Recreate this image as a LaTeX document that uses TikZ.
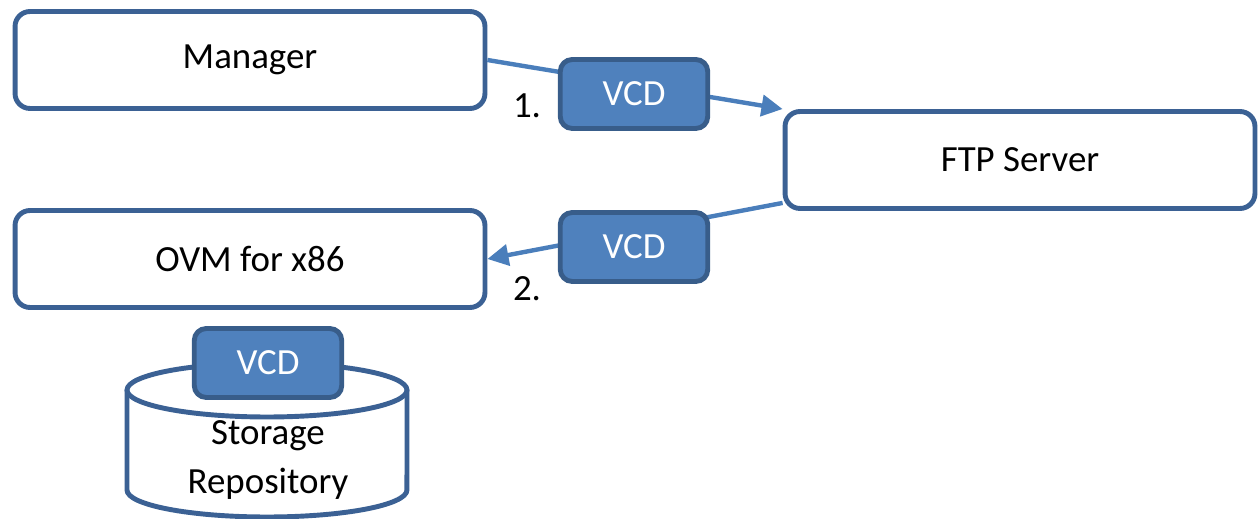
\documentclass[tikz,border=0pt]{standalone}
\usepackage{fontspec}
\setmainfont{Carlito}
\usepackage{xcolor}
\usepackage{tikz}
\usetikzlibrary{arrows.meta,calc,positioning}
\definecolor{boxblue}{HTML}{3B6194}
\definecolor{vcdfill}{HTML}{4F81BD}
\definecolor{vcdline}{HTML}{385D8A}
\definecolor{flowblue}{HTML}{4A7EBB}

\begin{document}
\begin{tikzpicture}[x=0.02cm,y=-0.02cm,
    font=\fontsize{21}{25}\selectfont,
    hostbox/.style={draw=boxblue,line width=2.8pt,rounded corners=0.3cm,fill=white,
      minimum width=9.4cm,minimum height=1.94cm},
    vcdbox/.style={draw=vcdline,line width=2.8pt,rounded corners=0.24cm,fill=vcdfill,
      text=white,minimum width=2.95cm,minimum height=1.38cm},
    flow/.style={draw=flowblue,line width=2.5pt,-{Triangle[length=12pt,width=12pt]}}]

  \useasboundingbox (0,0) rectangle (1260,519);

  	\node[hostbox] at (250,60) (manager) {Manager};
  	\node[hostbox] at (1020,160) (ftp) {FTP Server};
  	\node[hostbox] at (250,259) (ovm) {OVM for x86};

  	\draw[flow] (manager.east) -- (ftp.north west);
  	\draw[flow] ($(ftp.south west)+(0,-8)$) -- (ovm.east);

  	\node[vcdbox] at (634,94) (vcdsend) {VCD};
  	\node[vcdbox] at (634,247) (vcdget) {VCD};

  	\node at (527,106) (stepone) {1.};
  	\node at (527,289) (steptwo) {2.};

  	% storage repository
  	\draw[draw=boxblue,line width=2.8pt,fill=white] (127,390) -- (127,490)
  	   arc[start angle=180,end angle=360,x radius=2.8cm,y radius=0.54cm] -- (407,390);
  	\draw[draw=boxblue,line width=2.8pt,fill=white] (267,390) ellipse[x radius=2.8cm,y radius=0.54cm];
  	\node[align=center] at (268,460) (repo) {Storage\\[3pt]Repository};

  	\node[vcdbox] at (268,363) (vcdstore) {VCD};

\end{tikzpicture}
\end{document}
